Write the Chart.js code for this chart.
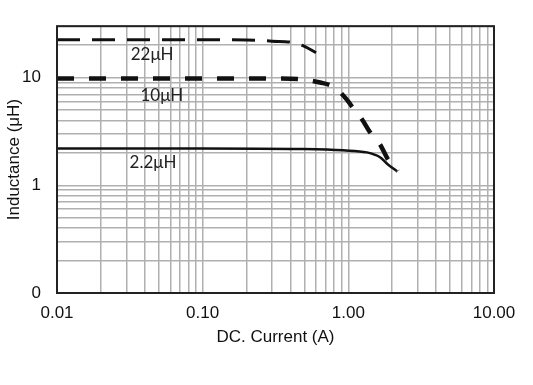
<!DOCTYPE html>
<html>
<head>
<meta charset="utf-8">
<script src="https://cdn.jsdelivr.net/npm/chart.js@4/dist/chart.umd.min.js"></script>
<style>
  body { margin: 0; background: #fff; }
  #wrap { width: 533px; height: 385px; }
</style>
</head>
<body>
<div id="wrap"><canvas id="myChart" width="533" height="385"></canvas></div>
<script>
// DC current (A) vs inductance (uH)
var current22 = [0.01, 0.1, 0.2, 0.3, 0.43, 0.5, 0.6];
var induct22  = [22.5, 22.5, 22.3, 21.8, 21, 19.5, 17];

var current10 = [0.01, 0.1, 0.3, 0.49, 0.64, 0.78, 0.88, 0.98, 1.08, 1.24, 1.41, 1.65, 1.87, 2.19];
var induct10  = [9.8, 9.8, 9.8, 9.6, 9.0, 8.3, 7.3, 6.2, 5.2, 4.1, 3.1, 2.4, 1.74, 1.35];

var current2 = [0.01, 0.1, 0.47, 0.92, 1.34, 1.65, 1.87, 2.16];
var induct2  = [2.2, 2.2, 2.17, 2.11, 2.02, 1.82, 1.56, 1.35];

var xTicks = [0.01, 0.02, 0.03, 0.04, 0.05, 0.06, 0.07, 0.08, 0.09,
              0.1, 0.2, 0.3, 0.4, 0.5, 0.6, 0.7, 0.8, 0.9,
              1, 2, 3, 4, 5, 6, 7, 8, 9, 10];
var yTicks = [0.1, 0.2, 0.3, 0.4, 0.5, 0.6, 0.7, 0.8, 0.9,
              1, 2, 3, 4, 5, 6, 7, 8, 9,
              10, 20, 30];
var xLabels = {0.01: '0.01', 0.1: '0.10', 1: '1.00', 10: '10.00'};
var yLabels = {0.1: '0', 1: '1', 10: '10'};

var seriesNames = ['22\u03bcH', '10\u03bcH', '2.2\u03bcH'];
// where the curve names sit (x in A, y in uH)
var namePos = [[0.045, 16.3], [0.0525, 6.8], [0.0456, 1.63]];

function pts(xs, ys) {
    return xs.map(function(x, i) { return {x: x, y: ys[i]}; });
}

var frame = {
    id: 'frame',
    afterDraw: function(chart) {
        var c = chart.ctx, a = chart.chartArea;
        c.save();
        c.strokeStyle = '#222';
        c.lineWidth = 2;
        c.strokeRect(a.left, a.top, a.right - a.left, a.bottom - a.top);
        c.font = '17px Lato';
        c.fillStyle = '#222';
        c.textAlign = 'center';
        c.textBaseline = 'middle';
        namePos.forEach(function(p, i) {
            c.fillText(seriesNames[i], chart.scales.x.getPixelForValue(p[0]), chart.scales.y.getPixelForValue(p[1]));
        });
        c.restore();
    }
};

var ctx = document.getElementById('myChart');
var myChart = new Chart(ctx, {
    type: 'scatter',
    data: {
        datasets: [{
            label: seriesNames[0],
            data: pts(current22, induct22),
            showLine: true,
            borderColor: '#111',
            borderWidth: 3,
            borderDash: [23, 12],
            pointRadius: 0,
            cubicInterpolationMode: 'monotone'
        }, {
            label: seriesNames[1],
            data: pts(current10, induct10),
            showLine: true,
            borderColor: '#111',
            borderWidth: 4.5,
            borderDash: [17, 15],
            pointRadius: 0,
            cubicInterpolationMode: 'monotone'
        }, {
            label: seriesNames[2],
            data: pts(current2, induct2),
            showLine: true,
            borderColor: '#111',
            borderWidth: 2.5,
            pointRadius: 0,
            cubicInterpolationMode: 'monotone'
        }]
    },
    options: {
        responsive: false,
        animation: false,
        layout: { padding: { left: 0, top: 25, right: 39, bottom: 37 } },
        plugins: { legend: { display: false }, tooltip: { enabled: false } },
        scales: {
            x: {
                type: 'logarithmic',
                min: 0.01,
                max: 10,
                afterBuildTicks: function(s) { s.ticks = xTicks.map(function(v) { return {value: v}; }); },
                afterFit: function(s) { s.height = 55; },
                ticks: {
                    autoSkip: false,
                    maxRotation: 0,
                    padding: 10,
                    color: '#111',
                    font: { family: 'Liberation Sans', size: 17 },
                    callback: function(v) { return xLabels[v] || ''; }
                },
                grid: { color: '#b0b0b0', lineWidth: 1.5, drawTicks: false },
                border: { display: false },
                title: {
                    display: true,
                    text: 'DC. Current (A)',
                    color: '#111',
                    font: { family: 'Liberation Sans', size: 17 },
                    padding: 0
                }
            },
            y: {
                type: 'logarithmic',
                min: 0.1,
                max: 30,
                afterBuildTicks: function(s) { s.ticks = yTicks.map(function(v) { return {value: v}; }); },
                afterFit: function(s) { s.width = 57; },
                ticks: {
                    autoSkip: false,
                    padding: 16,
                    color: '#111',
                    font: { family: 'Liberation Sans', size: 17 },
                    callback: function(v) { return yLabels[v] || ''; }
                },
                grid: { color: '#b0b0b0', lineWidth: 1.5, drawTicks: false },
                border: { display: false },
                title: {
                    display: true,
                    text: 'Inductance (\u03bcH)',
                    color: '#111',
                    font: { family: 'Liberation Sans', size: 17 },
                    padding: { top: 4, bottom: 0 }
                }
            }
        }
    },
    plugins: [frame]
});
</script>
</body>
</html>
